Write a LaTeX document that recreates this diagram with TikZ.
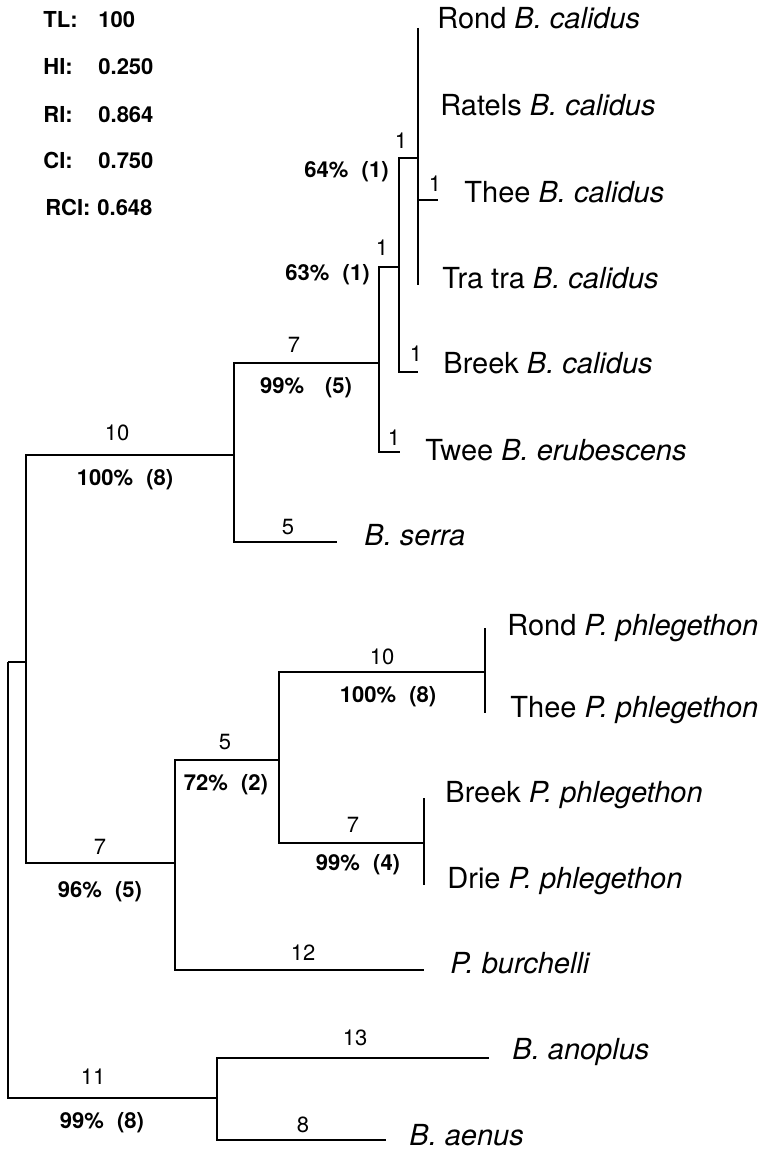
\documentclass[tikz,border=0pt]{standalone}
\usepackage{fontspec}
\setmainfont{TeX Gyre Heros}
\usetikzlibrary{positioning}

\begin{document}
\begin{tikzpicture}[
  x=0.5pt, y=-0.5pt,
  branch/.style={line width=1.1pt},
  taxon/.style={anchor=mid west, inner sep=0pt, font=\fontsize{14.5}{16}\selectfont},
  steps/.style={inner sep=1pt, font=\fontsize{11}{13}\selectfont},
  boot/.style={inner sep=1pt, font=\bfseries\fontsize{11}{13}\selectfont},
  stat/.style={anchor=mid west, inner sep=0pt, font=\bfseries\fontsize{11}{13}\selectfont}
]
  \useasboundingbox (0,0) rectangle (768,1154);

  % tree statistics
  \node[stat] (tl)   at (43,22)  {TL:};
  \node[stat] (tlv)  at (98,22)  {100};
  \node[stat] (hi)   at (43,69)  {HI:};
  \node[stat] (hiv)  at (98,69)  {0.250};
  \node[stat] (ri)   at (43,117) {RI:};
  \node[stat] (riv)  at (98,117) {0.864};
  \node[stat] (ci)   at (43,163) {CI:};
  \node[stat] (civ)  at (98,163) {0.750};
  \node[stat] (rci)  at (45,210) {RCI:};
  \node[stat] (rciv) at (97,210) {0.648};

  % internal nodes
  \coordinate (root)   at (8,662);
  \coordinate (ingrp)  at (26,662);
  \coordinate (outgrp) at (217,1098);
  \coordinate (nbA) at (234,455);
  \coordinate (nbB) at (379,363);
  \coordinate (nbC) at (399,267);
  \coordinate (nbD) at (418,158);
  \coordinate (npA) at (175,863);
  \coordinate (npB) at (279,760);
  \coordinate (npC) at (485,672);
  \coordinate (npD) at (424,843);

  % branch tips
  \coordinate (e-rondb)  at (418,28);
  \coordinate (e-theeb)  at (438,200);
  \coordinate (e-trab)   at (418,285);
  \coordinate (e-breekb) at (418,372);
  \coordinate (e-twee)   at (400,452);
  \coordinate (e-serra)  at (337,542);
  \coordinate (e-rondp)  at (485,628);
  \coordinate (e-theep)  at (485,713);
  \coordinate (e-breekp) at (424,798);
  \coordinate (e-driep)  at (424,885);
  \coordinate (e-burch)  at (424,970);
  \coordinate (e-anop)   at (489,1058);
  \coordinate (e-aenus)  at (386,1140);

  % branches
  \draw[branch] (root) -- (ingrp);
  \draw[branch] (root) |- (outgrp);
  \draw[branch] (ingrp) |- (nbA);
  \draw[branch] (ingrp) |- (npA);
  \draw[branch] (nbA) |- (nbB);
  \draw[branch] (nbA) |- (e-serra);
  \draw[branch] (nbB) |- (nbC);
  \draw[branch] (nbB) |- (e-twee);
  \draw[branch] (nbC) |- (nbD);
  \draw[branch] (nbC) |- (e-breekb);
  \draw[branch] (e-rondb) -- (e-trab);
  \draw[branch] (nbD) |- (e-theeb);
  \draw[branch] (npA) |- (npB);
  \draw[branch] (npA) |- (e-burch);
  \draw[branch] (npB) |- (npC);
  \draw[branch] (npB) |- (npD);
  \draw[branch] (e-rondp) -- (e-theep);
  \draw[branch] (e-breekp) -- (e-driep);
  \draw[branch] (outgrp) |- (e-anop);
  \draw[branch] (outgrp) |- (e-aenus);

  % taxa
  \node[taxon] (rondb)  at (437,23)   {Rond \textit{B. calidus}};
  \node[taxon] (ratels) at (440,110)  {Ratels \textit{B. calidus}};
  \node[taxon] (theeb)  at (464,197)  {Thee \textit{B. calidus}};
  \node[taxon] (trab)   at (442,283)  {Tra tra \textit{B. calidus}};
  \node[taxon] (breekb) at (443,368)  {Breek \textit{B. calidus}};
  \node[taxon] (twee)   at (425,455)  {Twee \textit{B. erubescens}};
  \node[taxon] (serra)  at (364,540)  {\textit{B. serra}};
  \node[taxon] (rondp)  at (507,630)  {Rond \textit{P. phlegethon}};
  \node[taxon] (theep)  at (510,712)  {Thee \textit{P. phlegethon}};
  \node[taxon] (breekp) at (445,797)  {Breek \textit{P. phlegethon}};
  \node[taxon] (driep)  at (447,883)  {Drie \textit{P. phlegethon}};
  \node[taxon] (burch)  at (450,968)  {\textit{P. burchelli}};
  \node[taxon] (anop)   at (512,1054) {\textit{B. anoplus}};
  \node[taxon] (aenus)  at (409,1140) {\textit{B. aenus}};

  % step counts and bootstrap support
  \node[steps] (len-nbA) at (117,433) {10};
  \node[boot]  (sup-nbA) at (125,480) {100\%\hspace{0.6em}(8)};
  \node[steps] (len-nbB) at (294,345) {7};
  \node[boot]  (sup-nbB) at (306,388) {99\%\hspace{0.95em}(5)};
  \node[steps] (len-serra) at (288,527) {5};
  \node[steps] (len-nbC) at (382,248) {1};
  \node[boot, anchor=east] (sup-nbC) at (372,275) {63\%\hspace{0.6em}(1)};
  \node[steps] (len-nbD) at (401,141) {1};
  \node[boot, anchor=east] (sup-nbD) at (391,172) {64\%\hspace{0.6em}(1)};
  \node[steps] (len-theeb)  at (435,184) {1};
  \node[steps] (len-breekb) at (416,354) {1};
  \node[steps] (len-twee)   at (394,438) {1};
  \node[steps] (len-npA) at (100,847) {7};
  \node[boot]  (sup-npA) at (100,892) {96\%\hspace{0.6em}(5)};
  \node[steps] (len-npB) at (225,742) {5};
  \node[boot]  (sup-npB) at (226,785) {72\%\hspace{0.6em}(2)};
  \node[steps] (len-npC) at (382,657) {10};
  \node[boot]  (sup-npC) at (388,697) {100\%\hspace{0.6em}(8)};
  \node[steps] (len-npD) at (353,825) {7};
  \node[boot]  (sup-npD) at (358,865) {99\%\hspace{0.6em}(4)};
  \node[steps] (len-burch) at (303,953) {12};
  \node[steps] (len-outgrp) at (93,1077) {11};
  \node[boot]  (sup-outgrp) at (102,1123) {99\%\hspace{0.6em}(8)};
  \node[steps] (len-anop)  at (355,1038) {13};
  \node[steps] (len-aenus) at (303,1125) {8};
\end{tikzpicture}
\end{document}
